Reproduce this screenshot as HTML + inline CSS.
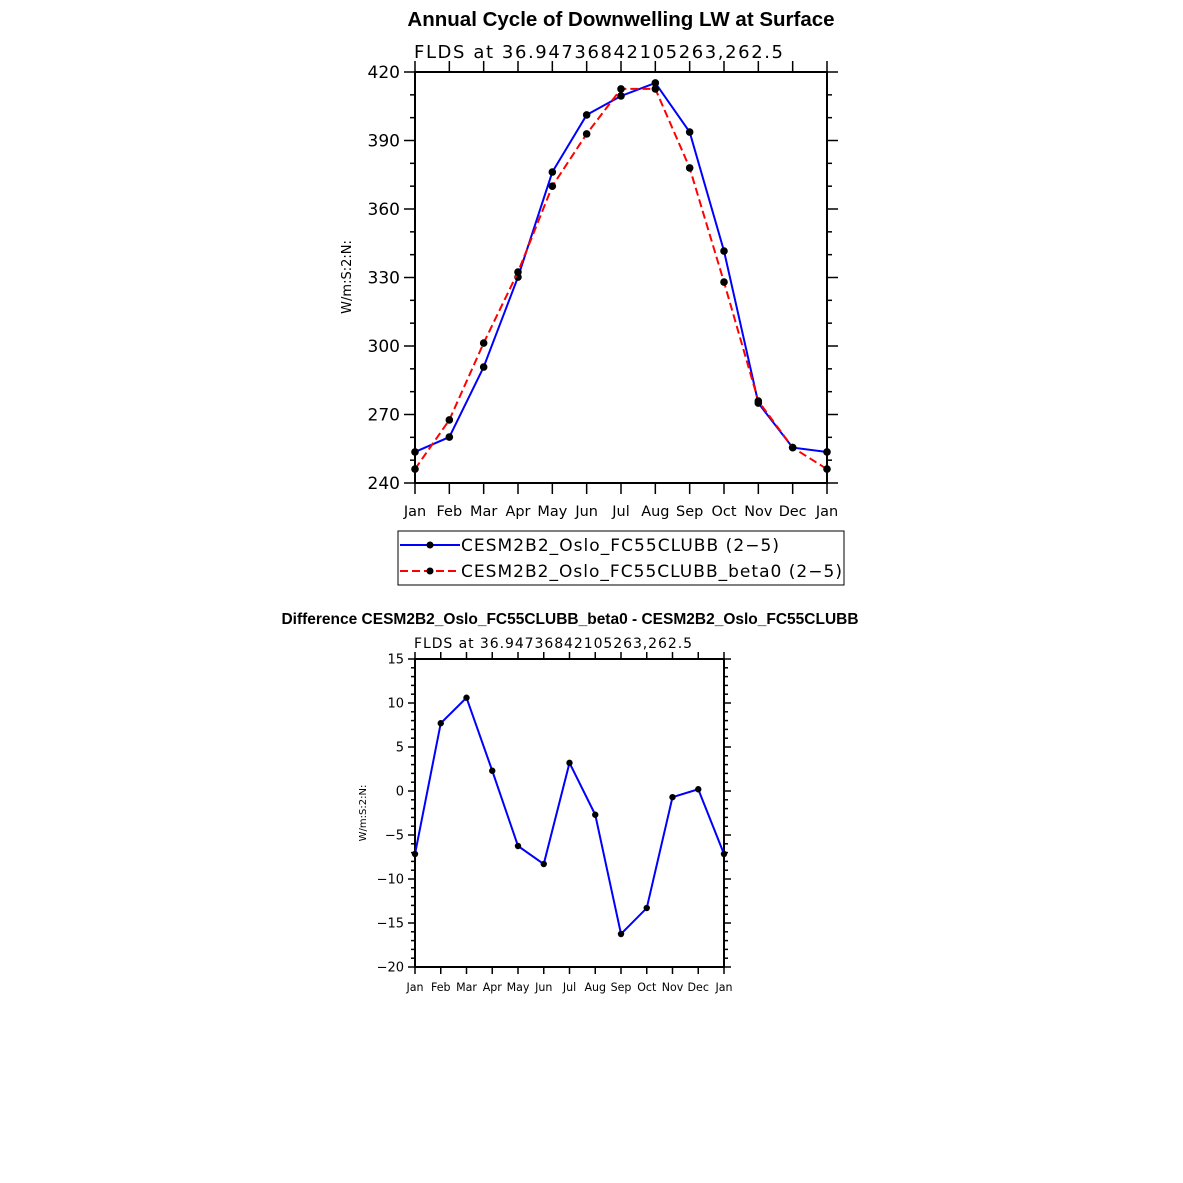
<!DOCTYPE html>
<html><head><meta charset="utf-8"><style>
body{margin:0;background:#fff;width:1183px;height:1183px;overflow:hidden}
svg{display:block;font-family:"Liberation Sans",sans-serif}
</style></head><body>
<svg id="svg" width="1183" height="1183" xmlns="http://www.w3.org/2000/svg">
<text x="621" y="26" text-anchor="middle" font-size="20.5" font-weight="bold">Annual Cycle of Downwelling LW at Surface</text>
<text x="414" y="58" font-size="18" textLength="369" font-family="DejaVu Sans, sans-serif">FLDS  at  36.94736842105263,262.5</text>
<text transform="translate(351,277) rotate(-90)" text-anchor="middle" font-size="13" font-family="DejaVu Sans, sans-serif">W/m:S:2:N:</text>
<g id="top"></g>
<g>
<rect x="398" y="531" width="446" height="54" fill="none" stroke="#000" stroke-width="1"/>
<line x1="400" y1="545" x2="460" y2="545" stroke="#00f" stroke-width="2"/>
<circle cx="430" cy="545" r="3.5"/>
<text x="461" y="551" font-size="17" textLength="318" font-family="DejaVu Sans, sans-serif">CESM2B2_Oslo_FC55CLUBB (2−5)</text>
<line x1="400" y1="571" x2="460" y2="571" stroke="#f00" stroke-width="2" stroke-dasharray="8,4"/>
<circle cx="430" cy="571" r="3.5"/>
<text x="461" y="577" font-size="17" textLength="381" font-family="DejaVu Sans, sans-serif">CESM2B2_Oslo_FC55CLUBB_beta0 (2−5)</text>
</g>
<text x="570" y="624" text-anchor="middle" font-size="15.5" font-weight="bold">Difference CESM2B2_Oslo_FC55CLUBB_beta0 - CESM2B2_Oslo_FC55CLUBB</text>
<text x="414" y="648" font-size="14" textLength="278" font-family="DejaVu Sans, sans-serif">FLDS  at  36.94736842105263,262.5</text>
<text transform="translate(366,813) rotate(-90)" text-anchor="middle" font-size="10" font-family="DejaVu Sans, sans-serif">W/m:S:2:N:</text>
<g id="bot"></g>
</svg>
<script>
const months=["Jan","Feb","Mar","Apr","May","Jun","Jul","Aug","Sep","Oct","Nov","Dec","Jan"];
const blueVals=[253.6,260.1,290.8,330.2,376.2,401.2,409.5,415.2,393.7,341.6,275,255.5,253.6];
const redVals=[246.1,267.6,301.3,332.4,370,392.9,412.6,412.6,378,328,275.9,255.5,246.1];
const topTicks=[240,270,300,330,360,390,420];
const diffVals=[-7.16,7.7,10.6,2.3,-6.25,-8.3,3.2,-2.7,-16.25,-13.3,-0.7,0.2,-7.16];
const botTicks=[-20,-15,-10,-5,0,5,10,15];
const NS="http://www.w3.org/2000/svg";
function mk(p,t,a){const e=document.createElementNS(NS,t);for(const k in a)e.setAttribute(k,a[k]);p.appendChild(e);return e;}
function chart(g,L,R,T,B,ymin,ymax,ticks,minor,fs,tl,mtl,series){
  const X=i=>L+(R-L)*i/12, Y=v=>B-(B-T)*(v-ymin)/(ymax-ymin);
  mk(g,'rect',{x:L,y:T,width:R-L,height:B-T,fill:'none',stroke:'#000','stroke-width':2});
  for(let v=ymin;v<=ymax+1e-9;v+=minor){const y=Y(v),isMaj=ticks.some(t=>Math.abs(t-v)<1e-6),l=isMaj?tl:mtl;
    mk(g,'line',{x1:L-l,y1:y,x2:L,y2:y,stroke:'#000','stroke-width':1.5});
    mk(g,'line',{x1:R,y1:y,x2:R+l,y2:y,stroke:'#000','stroke-width':1.5});}
  ticks.forEach(v=>{const t=mk(g,'text',{x:L-tl-4,y:Y(v)+fs*0.35,'text-anchor':'end','font-size':fs,'font-family':'DejaVu Sans, sans-serif'});t.textContent=String(v).replace('-','−');
    
    });
  months.forEach((m,i)=>{const x=X(i);
    mk(g,'line',{x1:x,y1:B,x2:x,y2:B+tl,stroke:'#000','stroke-width':1.5});
    mk(g,'line',{x1:x,y1:T-tl,x2:x,y2:T,stroke:'#000','stroke-width':1.5});
    const t=mk(g,'text',{x:x,y:B+tl+fs*1.3,'text-anchor':'middle','font-size':fs*0.85,'font-family':'DejaVu Sans, sans-serif'});t.textContent=m;
    
    });
  series.forEach(s=>{
    const pl=mk(g,'polyline',{points:s.vals.map((v,i)=>X(i)+','+Y(v)).join(' '),fill:'none',stroke:s.c,'stroke-width':2,'stroke-dasharray':s.d||'none'});
    
    
    s.vals.forEach((v,i)=>{const c=mk(g,'circle',{cx:X(i),cy:Y(v),r:s.r});
      
      });
  });
}
chart(document.getElementById('top'),415,827,72,483,240,420,topTicks,10,17,11,5,
 [{vals:blueVals,c:'#00f',r:3.8,name:'blue-series-line'},{vals:redVals,c:'#f00',d:'8,4',r:3.8,name:'red-series-line'}]);
chart(document.getElementById('bot'),415,724,659,967,-20,15,botTicks,1,13,7,4,
 [{vals:diffVals,c:'#00f',r:3.2,name:'difference-line'}]);
</script>
</body></html>
